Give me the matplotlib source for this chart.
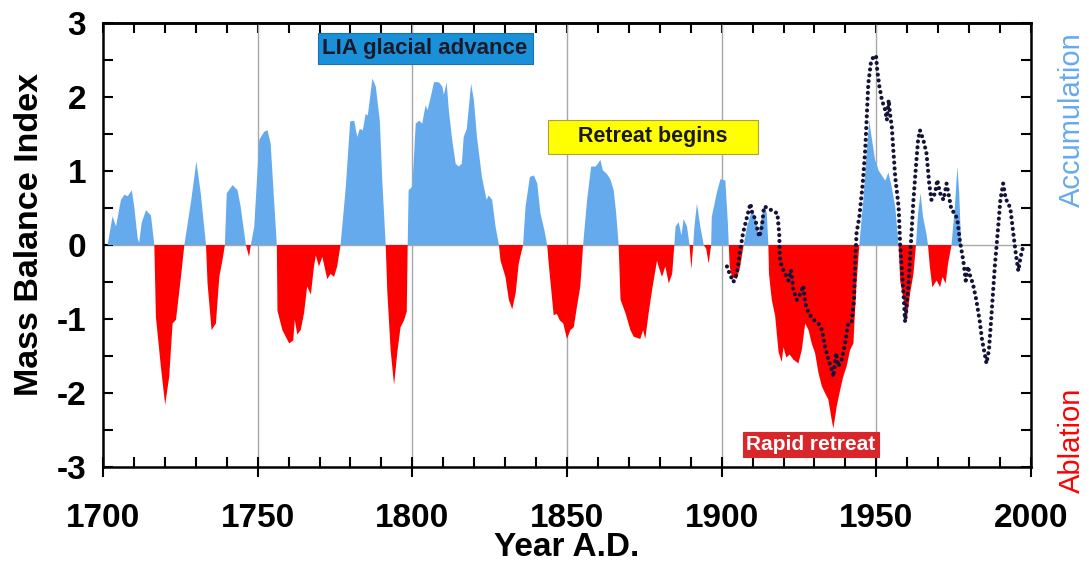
import numpy as np
import matplotlib.pyplot as plt
from matplotlib.ticker import MultipleLocator

plt.rcParams['font.family'] = ['Liberation Sans', 'DejaVu Sans']
plt.rcParams['axes.unicode_minus'] = False

# mass balance index (filled)
mbi_years = [1701.5, 1703.1, 1704.2, 1705.8, 1706.9, 1708.0, 1709.3, 1710.1, 1711.2, 1711.7,
             1712.5, 1713.9, 1715.5, 1716.6, 1717.1, 1718.7, 1720.1, 1721.4, 1722.5, 1723.6,
             1725.2, 1726.3, 1728.5, 1730.2, 1731.6, 1733.3, 1733.8, 1735.1, 1736.5, 1737.6,
             1738.6, 1739.4, 1740.0, 1741.9, 1743.5, 1744.5, 1746.2, 1747.2, 1747.8, 1748.9,
             1750.5, 1752.1, 1753.2, 1754.2, 1755.3, 1756.2, 1756.4, 1758.0, 1760.2, 1761.5,
             1762.0, 1762.8, 1763.9, 1765.0, 1766.0, 1767.2, 1768.2, 1768.8, 1769.8, 1770.9,
             1772.5, 1773.6, 1774.7, 1775.7, 1776.8, 1778.5, 1779.9, 1781.2, 1782.2, 1783.0,
             1784.0, 1784.9, 1785.6, 1787.1, 1788.2, 1789.5, 1790.3, 1791.4, 1791.9, 1793.0,
             1794.1, 1795.2, 1796.2, 1797.3, 1798.2, 1798.5, 1798.8, 1800.0, 1801.1, 1802.2,
             1803.2, 1804.3, 1804.9, 1805.9, 1807.0, 1808.6, 1809.7, 1810.2, 1811.1, 1811.8,
             1812.9, 1814.0, 1815.0, 1816.0, 1816.6, 1817.6, 1819.0, 1819.9, 1820.9, 1822.5,
             1824.0, 1824.7, 1825.8, 1826.9, 1828.0, 1828.5, 1830.1, 1831.2, 1832.3, 1833.4,
             1834.4, 1835.8, 1836.6, 1838.0, 1839.3, 1840.4, 1841.4, 1842.7, 1843.6, 1844.0,
             1844.7, 1845.7, 1846.7, 1847.7, 1848.8, 1850.0, 1851.1, 1852.2, 1853.2, 1854.3,
             1855.2, 1856.5, 1857.8, 1859.2, 1860.0, 1860.8, 1861.6, 1862.9, 1864.0, 1865.1,
             1865.9, 1866.7, 1867.3, 1868.9, 1870.5, 1871.6, 1873.7, 1874.6, 1875.3, 1876.4,
             1877.5, 1879.1, 1879.6, 1880.7, 1881.8, 1882.9, 1884.0, 1884.7, 1885.1, 1886.1,
             1887.0, 1887.7, 1888.8, 1889.6, 1890.2, 1890.8, 1891.2, 1892.0, 1893.1, 1894.2,
             1895.0, 1895.8, 1896.6, 1896.8, 1898.4, 1899.6, 1901.2, 1902.0, 1902.3, 1902.6,
             1903.3, 1904.9, 1906.0, 1907.1, 1908.2, 1909.8, 1910.9, 1911.9, 1913.0, 1913.7,
             1914.6, 1915.1, 1915.3, 1916.2, 1917.3, 1918.4, 1919.4, 1920.0, 1920.9, 1922.0,
             1923.2, 1924.8, 1925.9, 1927.0, 1928.1, 1929.1, 1930.2, 1931.3, 1932.4, 1933.4,
             1934.5, 1935.4, 1936.1, 1937.2, 1938.3, 1939.3, 1940.4, 1941.5, 1942.6, 1942.9,
             1943.6, 1944.5, 1945.8, 1946.9, 1947.7, 1948.4, 1949.6, 1950.7, 1951.8, 1952.9,
             1953.9, 1955.0, 1956.1, 1957.2, 1957.7, 1958.8, 1959.8, 1960.9, 1962.0, 1962.8,
             1963.5, 1964.3, 1965.1, 1966.2, 1966.7, 1967.3, 1968.1, 1969.5, 1970.6, 1971.4,
             1972.4, 1973.2, 1974.3, 1975.4, 1976.2, 1976.8, 1977.2, 1977.5]
mbi_values = [0, 0.39, 0.25, 0.61, 0.68, 0.66, 0.74, 0.52, 0.09, 0.03,
              0.30, 0.47, 0.40, 0, -0.97, -1.64, -2.16, -1.78, -1.06, -1.01,
              -0.43, 0, 0.60, 1.13, 0.70, 0, -0.52, -1.15, -1.06, -0.43,
              -0.21, 0, 0.70, 0.81, 0.74, 0.52, 0, -0.16, 0, 0.25,
              1.42, 1.53, 1.55, 1.37, 0.61, 0, -0.89, -1.15, -1.33, -1.29,
              -1.01, -1.21, -1.15, -0.92, -0.56, -0.67, -0.29, -0.14, -0.29, -0.16,
              -0.46, -0.39, -0.43, -0.29, 0, 0.79, 1.67, 1.68, 1.46, 1.57,
              1.55, 1.77, 1.75, 2.25, 2.14, 1.67, 0.86, 0, -0.62, -1.43,
              -1.89, -1.43, -1.11, -1.02, -0.90, 0, 0.74, 0.79, 1.64, 1.68,
              1.64, 1.89, 1.82, 1.99, 2.20, 2.20, 2.14, 2.03, 2.20, 1.82,
              1.42, 1.10, 1.06, 1.10, 1.46, 1.57, 2.18, 1.96, 1.46, 0.92,
              0.61, 0.67, 0.61, 0.25, 0, -0.21, -0.43, -0.74, -0.87, -0.65,
              -0.25, 0, 0.52, 0.92, 0.94, 0.83, 0.43, 0.20, 0, -0.21,
              -0.52, -0.95, -0.93, -1.02, -1.06, -1.27, -1.15, -1.11, -0.84, -0.56,
              0, 0.61, 1.06, 1.06, 1.10, 1.15, 1.01, 0.96, 0.89, 0.74,
              0.43, 0, -0.74, -0.92, -1.15, -1.24, -1.27, -1.15, -1.27, -0.92,
              -0.61, -0.21, -0.29, -0.43, -0.29, -0.52, -0.39, 0, 0.25, 0.31,
              0.13, 0.35, 0.25, 0, -0.33, 0, 0.25, 0.56, 0.25, 0,
              -0.05, -0.25, 0, 0.38, 0.70, 0.89, 0.87, 0.30, 0, -0.29,
              -0.43, -0.46, -0.29, 0, 0.25, 0.47, 0.38, 0.15, 0.38, 0.52,
              0.43, 0, -0.39, -0.74, -0.96, -1.45, -1.58, -1.38, -1.52, -1.48,
              -1.55, -1.60, -1.42, -1.06, -1.15, -1.33, -1.46, -1.73, -1.91, -2.00,
              -2.09, -2.32, -2.48, -2.18, -1.96, -1.78, -1.64, -1.42, -1.33, -1.06,
              -0.52, 0, 0.61, 1.28, 1.68, 1.48, 1.15, 1.01, 0.94, 0.87,
              0.98, 0.78, 0.52, 0, -0.48, -0.74, -1.02, -0.66, -0.39, 0,
              0.43, 0.70, 0.38, 0.15, 0, -0.29, -0.57, -0.48, -0.57, -0.43,
              -0.52, -0.25, 0, 0.52, 1.06, 0.70, 0.25, 0]

# instrumental series (dotted line)
obs_years = [1901.7, 1902.6, 1903.8, 1904.9, 1906.0, 1906.9, 1908.2, 1909.3, 1909.8, 1910.9,
             1911.6, 1912.2, 1913.0, 1913.7, 1915.1, 1916.7, 1918.0, 1918.6, 1918.8, 1919.4,
             1920.5, 1921.6, 1922.4, 1923.2, 1924.3, 1925.4, 1926.4, 1927.0, 1928.1, 1929.7,
             1931.3, 1932.4, 1933.4, 1934.5, 1935.6, 1936.1, 1937.0, 1937.7, 1938.8, 1939.9,
             1940.9, 1942.0, 1942.8, 1943.1, 1943.6, 1944.5, 1945.6, 1946.4, 1946.9, 1947.4,
             1948.2, 1949.0, 1949.9, 1950.3, 1951.0, 1951.8, 1952.9, 1953.4, 1954.0, 1954.4,
             1955.0, 1955.5, 1956.1, 1957.2, 1957.7, 1958.2, 1958.9, 1959.3, 1959.8, 1960.4,
             1961.1, 1962.0, 1962.8, 1963.5, 1964.1, 1965.2, 1966.2, 1967.1, 1967.8, 1969.0,
             1969.7, 1970.6, 1971.7, 1972.7, 1973.3, 1974.3, 1975.4, 1976.2, 1977.0, 1978.1,
             1978.9, 1979.6, 1980.4, 1981.2, 1982.3, 1983.4, 1984.2, 1985.0, 1985.6, 1986.4,
             1987.2, 1988.3, 1989.4, 1990.1, 1991.0, 1991.9, 1992.6, 1993.4, 1994.3, 1995.1,
             1995.9, 1996.6, 1997.4]
obs_values = [-0.29, -0.39, -0.50, -0.39, -0.07, 0.16, 0.38, 0.56, 0.45, 0.34,
              0.20, 0.11, 0.25, 0.52, 0.50, 0.45, 0.43, 0.16, -0.16, -0.29,
              -0.39, -0.48, -0.34, -0.61, -0.74, -0.66, -0.55, -0.79, -0.92, -1.01,
              -1.06, -1.15, -1.37, -1.55, -1.69, -1.78, -1.46, -1.64, -1.55, -1.33,
              -1.06, -1.04, -0.74, -0.29, 0.16, 0.38, 0.83, 1.28, 1.73, 2.18,
              2.45, 2.54, 2.56, 2.36, 2.14, 1.96, 1.82, 1.69, 1.96, 1.78,
              1.60, 1.28, 0.92, 0.52, 0.01, -0.29, -0.74, -1.04, -0.83, -0.52,
              -0.03, 0.61, 1.06, 1.42, 1.55, 1.42, 1.24, 0.83, 0.61, 0.70,
              0.88, 0.70, 0.61, 0.83, 0.70, 0.47, 0.43, 0.34, 0.06, -0.21,
              -0.48, -0.29, -0.43, -0.52, -0.74, -1.02, -1.29, -1.46, -1.60, -1.42,
              -0.96, -0.29, 0.25, 0.61, 0.83, 0.61, 0.58, 0.47, 0.15, -0.12,
              -0.35, -0.17, -0.03]

x_ticks = [1700, 1750, 1800, 1850, 1900, 1950, 2000]
y_ticks = [-3, -2, -1, 0, 1, 2, 3]

blue = '#66aaee'
red = '#ff0000'

fig = plt.figure(figsize=(10.89, 5.65), dpi=100)
ax = fig.add_axes([103 / 1089, 1 - 467 / 565, 928 / 1089, 444 / 565])

x = np.array(mbi_years)
y = np.array(mbi_values)
ax.fill_between(x, 0, y, where=y >= 0, interpolate=True, color=blue, lw=0, zorder=2)
ax.fill_between(x, 0, y, where=y <= 0, interpolate=True, color=red, lw=0, zorder=2)
ax.plot(obs_years, obs_values, color='#14143a', lw=3, ls=(0, (0.01, 1.4)),
        dash_capstyle='round', zorder=3)

for yr in [1750, 1800, 1850, 1900, 1950]:
    ax.axvline(yr, color='#a8a8a8', lw=1, zorder=1)
ax.axhline(0, color='#a8a8a8', lw=1, zorder=1)

ax.set_xlim(1700, 2000)
ax.set_ylim(-3, 3)
ax.set_xticks(x_ticks)
ax.set_yticks(y_ticks)
ax.set_yticklabels([str(v) for v in y_ticks])
ax.xaxis.set_minor_locator(MultipleLocator(10))
ax.yaxis.set_minor_locator(MultipleLocator(0.5))

for s in ax.spines.values():
    s.set_linewidth(1.8)
ax.tick_params(axis='x', which='major', direction='inout', length=14, width=1.5,
               labelsize=24, pad=19)
ax.tick_params(axis='x', which='minor', direction='in', length=7, width=1.5)
ax.tick_params(axis='y', which='both', direction='in', length=7, width=1.5,
               labelsize=24, pad=12, right=True)
for lab in ax.get_xticklabels() + ax.get_yticklabels():
    lab.set_fontweight('bold')

top = ax.secondary_xaxis('top')
top.set_xticks(x_ticks)
top.xaxis.set_minor_locator(MultipleLocator(10))
top.tick_params(which='major', direction='in', length=7, width=1.5, labeltop=False)
top.tick_params(which='minor', direction='in', length=7, width=1.5)
top.spines['top'].set_linewidth(1.8)

fig.text(30 / 1089, 1 - 235 / 565, 'Mass Balance Index', rotation=90, ha='center',
         va='center', fontsize=24.5, fontweight='bold')
fig.text(567 / 1089, 1 - 548 / 565, 'Year A.D.', ha='center', va='center',
         fontsize=24, fontweight='bold')
fig.text(1072 / 1089, 1 - 120 / 565, 'Accumulation', rotation=90, ha='center',
         va='center', fontsize=21, color=blue)
fig.text(1072 / 1089, 1 - 440 / 565, 'Ablation', rotation=90, ha='center',
         va='center', fontsize=21, color=red)

ax.text(1804.1, 2.66, 'LIA glacial advance', ha='center', va='center', fontsize=16,
        fontweight='bold', color='#1a1a2a', zorder=5,
        bbox=dict(boxstyle='square,pad=0.22', fc='#1a90d8', ec='#1a70b0', lw=0.8))
ax.text(1877.8, 1.46, '    Retreat begins    ', ha='center', va='center', fontsize=15.5,
        fontweight='bold', color='#1a1a1a', zorder=5,
        bbox=dict(boxstyle='square,pad=0.3', fc='#ffff00', ec='#b0a040', lw=0.8))
ax.text(1928.9, -2.70, 'Rapid retreat', ha='center', va='center', fontsize=15,
        fontweight='bold', color='white', zorder=5,
        bbox=dict(boxstyle='square,pad=0.15', fc='#d8262a', ec='#d8262a', lw=0.8))

fig.savefig('out.png', dpi=100)
